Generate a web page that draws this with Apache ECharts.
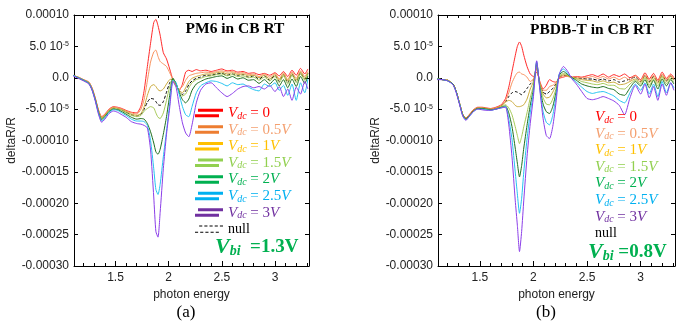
<!DOCTYPE html>
<html><head><meta charset="utf-8">
<script src="https://cdn.jsdelivr.net/npm/echarts@6/dist/echarts.min.js"></script>
<style>html,body{margin:0;padding:0;background:#fff}#c{width:700px;height:336px}</style>
</head><body><div id="c"></div>
<script>
// ---- data (deltaR/R in units of 1e-5) ----
const xA = [1.10,1.15,1.20,1.25,1.28,1.31,1.34,1.37,1.40,1.44,1.48,1.52,1.56,1.60,1.65,1.70,
  1.74,1.77,1.80,1.83,1.86,1.88,1.90,1.92,1.95,1.98,
  2.01,2.04,2.07,2.10,2.13,2.16,2.19,2.22,2.26,2.30,
  2.35,2.40,2.45,2.50,2.55,2.60,2.65,2.70,2.75,2.80,
  2.85,2.90,2.95,3.00,3.04,3.08,3.12,3.16,3.20,3.24,3.28,3.31];
const a0 = [0.4,0.1,-0.3,-0.7,-1.6,-3.2,-5.1,-6.2,-5.8,-5.0,-4.6,-4.7,-4.9,-5.2,-5.5,-5.6,
  -4.5,-2.0,1.8,5.5,8.8,9.3,8.3,6.8,4.0,3.0,
  1.4,-0.3,-1.2,-2.0,-1.0,0.9,1.2,1.0,1.3,1.1,
  1.2,1.0,1.2,1.4,1.1,1.2,0.9,1.0,0.7,0.8,
  0.5,0.7,0.4,0.8,0.3,1.0,0.2,1.2,0.4,1.5,0.6,1.4];
const a1 = [0.4,0.1,-0.3,-0.7,-1.7,-3.3,-5.2,-6.3,-5.9,-5.1,-4.7,-4.8,-5.0,-5.3,-5.6,-5.8,
  -5.0,-3.4,-0.5,2.5,4.1,4.4,3.4,2.6,2.2,1.8,
  0.8,-0.3,-1.3,-1.8,-1.4,-0.4,0.3,0.5,0.7,0.8,
  0.9,0.8,1.0,1.1,0.9,1.0,0.7,0.8,0.5,0.6,
  0.2,0.6,0.1,0.7,-0.2,0.8,-0.3,0.9,-0.1,1.1,0.2,1.0];
const a2 = [0.4,0.0,-0.4,-0.8,-1.8,-3.4,-5.3,-6.4,-6.0,-5.2,-4.8,-4.9,-5.1,-5.4,-5.8,-6.0,
  -5.7,-4.6,-2.8,-1.4,-1.1,-1.4,-1.9,-2.1,-1.8,-1.0,
  -0.3,-0.2,-1.2,-2.0,-2.4,-1.6,-0.6,-0.1,0.2,0.4,
  0.6,0.6,0.8,0.9,0.6,0.8,0.5,0.6,0.3,0.4,
  0.0,0.4,-0.2,0.5,-0.4,0.6,-0.5,0.7,-0.4,0.9,-0.1,0.8];
const a3 = [0.4,0.0,-0.4,-0.8,-1.8,-3.4,-5.4,-6.5,-6.1,-5.3,-4.9,-5.0,-5.2,-5.6,-6.0,-6.2,
  -6.0,-5.3,-4.9,-4.6,-4.8,-5.6,-6.3,-6.5,-5.6,-3.6,
  -1.4,-0.1,-1.0,-2.2,-2.9,-2.6,-1.6,-0.8,-0.3,-0.1,
  0.2,0.3,0.5,0.6,0.3,0.5,0.2,0.3,0.0,0.1,
  -0.4,0.1,-0.5,0.2,-0.8,0.3,-1.0,0.4,-0.8,0.6,-0.4,0.6];
const a4 = [0.4,0.0,-0.4,-0.9,-1.9,-3.5,-5.5,-6.7,-6.2,-5.4,-5.0,-5.1,-5.4,-5.8,-6.3,-6.6,
  -6.5,-6.6,-7.3,-8.6,-10.4,-11.8,-12.2,-11.4,-9.0,-6.2,
  -2.8,-0.1,-0.9,-2.4,-3.5,-4.0,-3.4,-2.0,-1.0,-0.6,
  -0.2,0.0,0.2,0.3,-0.1,0.2,-0.2,0.0,-0.4,-0.3,
  -0.9,-0.3,-1.0,-0.2,-1.3,-0.3,-1.6,-0.2,-1.4,0.2,-0.9,0.3];
const a5 = [0.4,0.0,-0.4,-0.9,-1.9,-3.6,-5.6,-6.9,-6.4,-5.5,-5.1,-5.2,-5.6,-6.0,-6.6,-6.9,
  -6.9,-7.0,-7.6,-10.0,-14.5,-17.8,-18.6,-17.0,-12.6,-8.5,
  -4.2,-0.4,-0.8,-2.7,-4.6,-5.9,-6.2,-4.6,-2.4,-1.3,
  -0.8,-0.5,-0.6,-0.9,-1.3,-0.8,-1.1,-1.0,-1.5,-1.9,
  -2.1,-1.0,-1.4,-0.8,-2.0,-1.2,-2.8,-1.0,-3.6,-0.8,-2.4,-0.2];
const a6 = [0.3,-0.1,-0.5,-1.0,-2.0,-3.7,-5.8,-7.1,-6.6,-5.7,-5.3,-5.5,-5.9,-6.3,-7.0,-7.3,
  -7.4,-7.6,-8.0,-11.5,-19.0,-24.5,-25.4,-21.5,-14.5,-9.0,
  -4.8,-0.6,-1.5,-4.5,-7.2,-8.8,-9.4,-7.5,-4.0,-2.0,
  -1.0,-0.8,-1.6,-2.4,-3.0,-2.5,-1.8,-1.4,-1.3,-1.6,
  -1.4,-1.8,-1.2,-2.2,-1.4,-3.0,-1.8,-3.6,-1.5,-2.6,-0.6,-1.8];
const aN = [0.4,0.0,-0.4,-0.8,-1.8,-3.4,-5.35,-6.45,-6.05,-5.25,-4.85,-4.95,-5.15,-5.5,-5.9,-6.1,
  -5.8,-5.0,-3.9,-3.3,-3.4,-3.8,-4.3,-4.4,-3.8,-2.3,
  -0.8,-0.1,-1.1,-2.1,-2.7,-2.1,-1.1,-0.5,-0.1,0.1,
  0.4,0.4,0.6,0.7,0.4,0.6,0.3,0.5,0.1,0.3,
  -0.2,0.3,-0.4,0.4,-0.6,0.5,-0.8,0.6,-0.6,0.8,-0.2,0.7];

const xB = [1.10,1.15,1.20,1.25,1.28,1.31,1.34,1.37,1.40,1.44,1.48,1.52,1.56,1.60,1.65,1.70,
  1.74,1.77,1.80,1.83,1.85,1.87,1.89,1.91,1.94,1.97,
  2.00,2.03,2.06,2.09,2.12,2.15,2.18,2.21,2.24,2.28,
  2.32,2.36,2.40,2.45,2.50,2.55,2.60,2.65,2.70,2.75,
  2.80,2.85,2.90,2.95,3.00,3.04,3.08,3.12,3.16,3.20,
  3.24,3.28,3.31];
const b0 = [-0.2,-0.3,-0.4,-1.0,-2.2,-4.0,-5.8,-6.4,-5.9,-5.1,-4.7,-4.7,-4.8,-4.9,-4.7,-4.3,
  -3.3,-1.5,1.0,3.5,5.0,5.7,5.0,3.6,1.8,0.6,
  0.2,0.9,-0.6,-1.8,-1.2,-0.3,-0.6,-0.7,-0.1,0.1,
  0.3,0.1,0.2,0.1,0.3,0.5,0.2,0.6,0.1,0.5,
  0.2,0.6,0.0,0.4,-0.3,0.8,-0.2,0.7,-0.4,0.9,
  -0.1,0.6,0.0];
const b1 = [-0.2,-0.3,-0.4,-1.0,-2.2,-4.0,-5.8,-6.5,-6.0,-5.2,-4.8,-4.8,-4.9,-5.0,-4.8,-4.4,
  -3.7,-2.4,-0.8,0.3,0.8,0.9,0.6,0.5,0.1,-0.6,
  -0.2,1.4,-0.9,-2.0,-2.0,-1.4,-1.2,-0.8,0.0,0.3,
  0.2,0.0,0.1,0.0,0.0,0.2,-0.1,0.2,-0.2,0.1,
  -0.3,0.1,-0.4,0.3,-0.5,0.5,-0.4,0.4,-0.6,0.6,
  -0.3,0.4,-0.2];
const b2 = [-0.2,-0.3,-0.4,-1.0,-2.2,-4.0,-5.8,-6.5,-6.0,-5.2,-4.8,-4.8,-4.9,-5.0,-4.9,-4.5,
  -3.9,-3.6,-3.8,-4.4,-4.6,-4.6,-4.5,-4.3,-3.4,-1.8,
  -0.6,1.8,-1.0,-2.6,-3.2,-3.1,-2.3,-1.2,0.1,0.5,
  0.3,0.0,-0.1,-0.3,-0.4,-0.5,-0.7,-0.5,-0.8,-0.7,
  -1.1,-1.0,-0.6,-0.2,-0.7,0.2,-0.8,0.1,-0.9,0.3,
  -0.6,0.2,-0.4];
const b3 = [-0.2,-0.3,-0.4,-1.0,-2.2,-4.0,-5.9,-6.6,-6.1,-5.3,-4.9,-4.9,-5.0,-5.1,-5.0,-4.6,
  -4.3,-4.8,-5.9,-7.8,-9.2,-10.5,-9.4,-7.8,-5.6,-3.2,
  -1.2,2.1,-1.2,-3.2,-4.2,-4.3,-3.4,-1.8,0.2,0.7,
  0.4,0.0,-0.2,-0.6,-0.8,-1.0,-1.1,-0.9,-1.2,-1.2,
  -1.7,-1.8,-1.0,-0.4,-1.0,0.0,-1.2,-0.2,-1.3,0.1,
  -0.9,-0.1,-0.7];
const b4 = [-0.2,-0.3,-0.5,-1.0,-2.2,-4.1,-5.9,-6.6,-6.1,-5.3,-4.9,-4.9,-5.0,-5.1,-5.0,-4.7,
  -4.5,-5.6,-7.8,-11.2,-13.6,-15.8,-14.0,-11.2,-7.6,-4.4,
  -1.8,2.4,-1.5,-4.2,-5.4,-5.7,-4.6,-2.4,0.4,1.0,
  0.5,0.0,-0.4,-1.0,-1.3,-1.5,-1.6,-1.4,-1.7,-1.9,
  -2.6,-2.8,-1.6,-0.6,-1.3,-0.3,-1.6,-0.4,-1.8,-0.2,
  -1.3,-0.3,-1.0];
const b5 = [-0.2,-0.3,-0.5,-1.1,-2.3,-4.1,-6.0,-6.7,-6.2,-5.4,-5.0,-5.0,-5.1,-5.2,-5.0,-4.8,
  -4.6,-6.6,-9.8,-15.0,-18.5,-21.6,-19.2,-15.0,-9.8,-5.6,
  -2.4,2.6,-1.8,-5.4,-7.1,-7.5,-6.0,-3.1,0.6,1.4,
  0.7,-0.1,-0.7,-1.5,-2.2,-2.5,-2.3,-2.2,-2.5,-2.9,
  -3.6,-4.0,-2.4,-1.0,-2.0,-0.8,-2.6,-1.0,-3.0,-0.6,
  -2.4,-0.8,-1.6];
const b6 = [-0.3,-0.3,-0.5,-1.1,-2.4,-4.2,-6.1,-6.8,-6.2,-5.4,-5.0,-5.1,-5.2,-5.2,-5.0,-4.8,
  -4.7,-7.5,-12.6,-19.5,-23.5,-27.7,-24.5,-19.5,-12.6,-7.3,
  -3.0,2.7,-2.0,-6.5,-9.2,-9.7,-7.8,-4.0,0.5,1.8,
  1.0,-0.2,-1.0,-2.2,-3.3,-3.5,-3.3,-3.0,-3.3,-3.7,
  -4.4,-5.9,-3.2,-1.2,-2.6,-1.0,-3.2,-1.4,-3.6,-1.0,
  -2.8,-0.8,-2.0];
const bN = [-0.2,-0.3,-0.4,-1.0,-2.2,-4.0,-5.8,-6.5,-6.0,-5.2,-4.8,-4.8,-4.9,-5.0,-4.85,-4.45,
  -3.8,-3.0,-2.4,-2.2,-2.3,-2.5,-2.7,-2.4,-1.7,-1.0,
  -0.4,1.6,-0.9,-2.3,-2.6,-2.2,-1.7,-1.0,0.0,0.4,
  0.3,0.1,0.0,-0.1,-0.2,-0.2,-0.4,-0.2,-0.5,-0.3,
  -0.7,-0.5,-0.2,0.1,-0.6,0.4,-0.6,0.2,-0.7,0.4,
  -0.5,0.3,-0.3];

const vdcValues = ['0','0.5','1','1.5','2','2.5','3'];
const seriesNames = ['Vdc=0','Vdc=0.5V','Vdc=1V','Vdc=1.5V','Vdc=2V','Vdc=2.5V','Vdc=3V'];
const nullName = 'null';
const xTickMajor = [1.5, 2, 2.5, 3];
const xTickLabels = ['1.5', '2', '2.5', '3'];
const xTickMinor = [1.2,1.3,1.4,1.6,1.7,1.8,1.9,2.1,2.2,2.3,2.4,2.6,2.7,2.8,2.9,3.1,3.2,3.3];
const yTickVals = [-30,-25,-20,-15,-10,-5,0,5,10];
const yTickLabels = ['-0.00030','-0.00025','-0.00020','-0.00015','-0.00010','-5.0 10{s|-5}','0.0','5.0 10{s|-5}','0.00010'];
const panelTitles = ['PM6 in CB RT', 'PBDB-T in CB RT'];
const vbiValues = ['1.3V', '0.8V'];
const captions = ['(a)', '(b)'];

// ---- styles ----
const curveColors = ['#ff2a2a','#f7925e','#c9a93a','#a6c957','#1f6e1f','#25c3f0','#8b3ee8'];
const iconColors = ['#ff0000','#ed7d31','#ffc000','#92d050','#00b050','#00b0f0','#7030a0'];
const textColors = ['#ff0000','#f4a070','#ffc000','#92d050','#00b050','#00b0f0','#7030a0'];
const SANS = 'Liberation Sans, Arial, sans-serif';
const SERIF = 'Liberation Serif, Times New Roman, serif';
const xMin = 1.11, xMax = 3.32;

const grids = [
  {left:74, top:15, width:235, height:251},
  {left:74, top:15, width:235, height:251},
  {left:438, top:15, width:237, height:251},
  {left:438, top:15, width:237, height:251}
];

function xMain(gi, pos, withLabel) {
  return {
    type:'value', gridIndex:gi, position:pos, min:xMin, max:xMax,
    splitLine:{show:false},
    axisLine:{show:true, onZero:false, lineStyle:{color:'#000', width:1}},
    axisTick:{show:true, inside:true, length:5, customValues:xTickMajor, lineStyle:{color:'#000'}},
    axisLabel: withLabel ? {show:true, customValues:xTickMajor, formatter:v => xTickLabels[xTickMajor.indexOf(v)],
      fontSize:12, color:'#222', fontFamily:SANS, margin:6} : {show:false},
    name: withLabel ? 'photon energy' : '', nameLocation:'middle', nameGap:18,
    nameTextStyle:{fontSize:12, color:'#222', fontFamily:SANS}
  };
}
function xMinor(gi, pos) {
  return {
    type:'value', gridIndex:gi, position:pos, min:xMin, max:xMax,
    splitLine:{show:false}, axisLine:{show:false, onZero:false},
    axisTick:{show:true, inside:true, length:3, customValues:xTickMinor, lineStyle:{color:'#000'}},
    axisLabel:{show:false}
  };
}
function yMain(gi, pos, withLabel) {
  return {
    type:'value', gridIndex:gi, position:pos, min:-30, max:10, interval:5,
    splitLine:{show:false},
    axisLine:{show:true, onZero:false, lineStyle:{color:'#000', width:1}},
    axisTick:{show:true, inside:true, length:4, lineStyle:{color:'#000'}},
    axisLabel: withLabel ? {show:true, fontSize:12, color:'#222', fontFamily:SANS, margin:5,
      formatter: v => yTickLabels[yTickVals.indexOf(v)],
      rich:{s:{fontSize:7, fontFamily:SANS, color:'#222', verticalAlign:'top'}}} : {show:false},
    name: withLabel ? 'deltaR/R' : '', nameLocation:'middle', nameGap:46,
    nameTextStyle:{fontSize:12, color:'#222', fontFamily:SANS}
  };
}
function yHidden(gi) {
  return {type:'value', gridIndex:gi, min:-30, max:10, show:false};
}

const xAxis = [xMain(0,'bottom',true), xMain(0,'top',false), xMinor(1,'bottom'), xMinor(1,'top'),
               xMain(2,'bottom',true), xMain(2,'top',false), xMinor(3,'bottom'), xMinor(3,'top')];
const yAxis = [yMain(0,'left',true), yMain(0,'right',false), yHidden(1),
               yMain(2,'left',true), yMain(2,'right',false), yHidden(3)];

function mk(name, xs, ys, color, xi, yi, dashed) {
  return {
    type:'line', name, xAxisIndex:xi, yAxisIndex:yi,
    data: xs.map((x,i) => [x, ys[i]]),
    showSymbol:false, symbol:'none', smooth:0.2,
    lineStyle:{color, width:1, type: dashed ? [3,2] : 'solid'},
    itemStyle:{color}, emphasis:{disabled:true}
  };
}
const leftVals = [a0,a1,a2,a3,a4,a5,a6];
const rightVals = [b0,b1,b2,b3,b4,b5,b6];
const series = [];
series.push(mk(nullName, xA, aN, '#000', 0, 0, true));
leftVals.forEach((v,i) => series.push(mk(seriesNames[i], xA, v, curveColors[i], 0, 0, false)));
series.push(mk(nullName, xB, bN, '#000', 4, 3, true));
rightVals.forEach((v,i) => series.push(mk(seriesNames[i], xB, v, curveColors[i], 4, 3, false)));

const barIcon = 'path://M3,0H28V3H3Z M0,5.5H24V8.5H0Z';
const dashIcon = 'path://M4,0H7V1H4Z M9,0H12V1H9Z M14,0H17V1H14Z M19,0H22V1H19Z M24,0H27V1H24Z M0,6H3V7H0Z M5,6H8V7H5Z M10,6H13V7H10Z M15,6H18V7H15Z M20,6H23V7H20Z';

const legendRich = {
  v:{fontFamily:SERIF, fontStyle:'italic', fontSize:15, lineHeight:16},
  d:{fontFamily:SERIF, fontStyle:'italic', fontSize:10, lineHeight:16, verticalAlign:'bottom'},
  e:{fontFamily:SERIF, fontSize:15, lineHeight:16},
  n:{fontFamily:SERIF, fontSize:14, lineHeight:16, color:'#000'}
};
function legendFmt(name) {
  if (name === nullName) return '{n|null}';
  const k = seriesNames.indexOf(name);
  const num = vdcValues[k];
  return '{v|V}{d|dc}{e| = ' + num + '}' + (num === '0' ? '' : '{v|V}');
}
function legendData(withIcons) {
  const d = seriesNames.map((n,i) => ({name:n, icon: withIcons ? barIcon : 'none',
    itemStyle:{color:iconColors[i]}, textStyle:{color:textColors[i]}}));
  d.push({name:nullName, icon: withIcons ? dashIcon : 'none', itemStyle:{color:'#000'}, textStyle:{color:'#000'}});
  return d;
}
const legend = [
  {left:195, top:105, orient:'vertical', itemWidth:28, itemHeight:8.5, itemGap:0.6, padding:0,
   selectedMode:false, data:legendData(true), formatter:legendFmt,
   textStyle:{fontFamily:SERIF, fontSize:15, lineHeight:16, rich:legendRich}},
  {left:590, top:109, orient:'vertical', itemWidth:0, itemHeight:8, itemGap:0.6, padding:0,
   selectedMode:false, data:legendData(false), formatter:legendFmt,
   textStyle:{fontFamily:SERIF, fontSize:15, lineHeight:16, rich:legendRich}}
];

const vbiRich = {
  v:{fontFamily:SERIF, fontStyle:'italic', fontWeight:'bold', fontSize:22, fill:'#00b050', verticalAlign:'middle'},
  s:{fontFamily:SERIF, fontStyle:'italic', fontWeight:'bold', fontSize:14, fill:'#00b050', verticalAlign:'bottom'},
  t:{fontFamily:SERIF, fontWeight:'bold', fontSize:19, fill:'#00b050', verticalAlign:'middle'}
};
function txt(x, y, text, font, extra) {
  return Object.assign({type:'text', x, y, silent:true,
    style:Object.assign({text, fill:'#000', align:'center', verticalAlign:'middle', font}, extra || {})});
}
const graphic = [
  txt(235, 29, panelTitles[0], 'bold 15.5px ' + SERIF),
  txt(592, 30, panelTitles[1], 'bold 15.5px ' + SERIF),
  txt(186, 313, captions[0], '17px ' + SERIF),
  txt(546, 313, captions[1], '17px ' + SERIF),
  {type:'text', x:215, y:247, silent:true, style:{text:'{v|V}{s|bi}{t|  =' + vbiValues[0] + '}', rich:vbiRich, align:'left', verticalAlign:'middle'}},
  {type:'text', x:588, y:252, silent:true, style:{text:'{v|V}{s|bi}{t| =' + vbiValues[1] + '}', rich:vbiRich, align:'left', verticalAlign:'middle'}}
];

const chart = echarts.init(document.getElementById('c'), null, {renderer:'canvas'});
chart.setOption({
  animation:false, backgroundColor:'#fff',
  grid:grids, xAxis, yAxis, series, legend, graphic
});
</script></body></html>
